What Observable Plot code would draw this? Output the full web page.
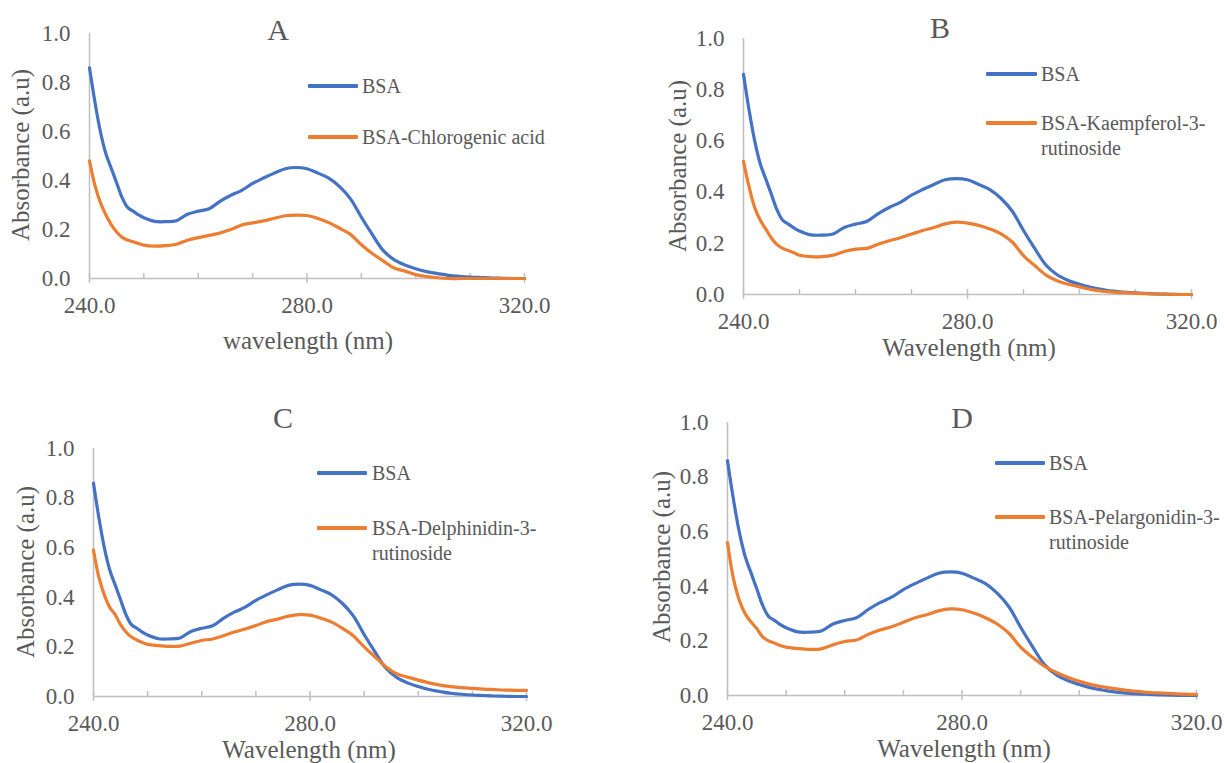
<!DOCTYPE html>
<html>
<head>
<meta charset="utf-8">
<script src="https://cdn.jsdelivr.net/npm/d3@7"></script>
<script src="https://cdn.jsdelivr.net/npm/@observablehq/plot@0.6"></script>
<style>
  html, body { margin: 0; padding: 0; background: #fff; }
  #root { position: relative; width: 1224px; height: 763px; overflow: hidden; background: #fff;
          font-family: "Liberation Serif", "Times New Roman", serif; color: #595959; }
  #root svg { position: absolute; left: 0; top: 0; }
  .t { position: absolute; white-space: nowrap; line-height: 1; }
  .title { font-size: 30px; transform: translate(-50%, -50%); }
  .xt { font-size: 25px; transform: translate(-50%, -50%); }
  .yt { font-size: 25px; transform: translate(-50%, -50%) rotate(-90deg); }
  .lg { font-size: 20px; transform: translateY(-50%); }
  .ln { position: absolute; height: 4px; border-radius: 1px; transform: translateY(-50%); }
</style>
</head>
<body>
<div id="root"></div>
<script>
// ---- data ----
const wavelength = [240,241,242,243,244,245,246,247,248,249,250,
  252,254,256,258,260,262,264,266,268,270,272,274,276,278,280,282,284,286,288,290,
  292,294,296,298,300,302,304,306,308,310,312,314,316,318,320];

const bsa = [0.86,0.72,0.60,0.51,0.45,0.39,0.33,0.29,0.275,0.26,0.248,
  0.233,0.232,0.236,0.262,0.275,0.285,0.315,0.34,0.36,0.388,0.41,0.43,0.448,0.453,0.448,0.43,0.41,0.375,0.325,0.25,
  0.18,0.115,0.077,0.055,0.04,0.028,0.02,0.013,0.009,0.006,0.004,0.002,0.001,0,0];

const chlorogenic = [0.48,0.38,0.31,0.26,0.22,0.19,0.168,0.157,0.15,0.143,0.136,
  0.132,0.134,0.14,0.156,0.167,0.176,0.186,0.2,0.218,0.227,0.235,0.246,0.256,0.259,0.257,0.245,0.228,0.205,0.18,0.138,
  0.102,0.072,0.043,0.03,0.016,0.008,0.003,0,0,0,0,0,0,0,0];

const kaempferol = [0.52,0.42,0.34,0.29,0.255,0.22,0.195,0.18,0.172,0.163,0.153,
  0.148,0.148,0.154,0.168,0.177,0.18,0.196,0.21,0.222,0.236,0.25,0.262,0.276,0.283,0.279,0.27,0.256,0.237,0.205,0.152,
  0.113,0.076,0.054,0.04,0.03,0.02,0.013,0.009,0.007,0.005,0.003,0.002,0.001,0,0];

const delphinidin = [0.59,0.48,0.41,0.36,0.33,0.29,0.26,0.24,0.228,0.218,0.21,
  0.205,0.202,0.203,0.215,0.226,0.232,0.245,0.26,0.272,0.286,0.302,0.312,0.324,0.33,0.328,0.316,0.3,0.275,0.245,0.2,
  0.16,0.12,0.092,0.078,0.066,0.055,0.046,0.04,0.036,0.033,0.03,0.028,0.026,0.025,0.025];

const pelargonidin = [0.56,0.43,0.35,0.30,0.27,0.245,0.215,0.2,0.192,0.183,0.177,
  0.172,0.169,0.171,0.186,0.198,0.203,0.224,0.24,0.252,0.268,0.285,0.296,0.31,0.317,0.314,0.302,0.285,0.262,0.228,0.177,
  0.14,0.108,0.085,0.067,0.052,0.04,0.032,0.025,0.019,0.015,0.011,0.009,0.007,0.005,0.004];

const xMajorTicks = [240, 280, 320];
const xMinorTicks = [240, 250, 260, 270, 280, 290, 300, 310, 320];
const yTicks = [0, 0.2, 0.4, 0.6, 0.8, 1.0];

const panels = [
  { letter: "A", xLabel: "wavelength (nm)", name: ["BSA-Chlorogenic acid"], values: chlorogenic,
    rect: [89, 524, 33, 278], titlePos: [278, 30], xt: [308, 340], yt: [20, 155],
    leg: { x0: 308, x1: 358, tx: 362, y1: 86, y2: 137 } },
  { letter: "B", xLabel: "Wavelength (nm)", name: ["BSA-Kaempferol-3-", "rutinoside"], values: kaempferol,
    rect: [743, 1191, 38, 294], titlePos: [940, 28], xt: [969, 347], yt: [677, 166],
    leg: { x0: 986, x1: 1037, tx: 1041, y1: 74, y2: 123 } },
  { letter: "C", xLabel: "Wavelength (nm)", name: ["BSA-Delphinidin-3-", "rutinoside"], values: delphinidin,
    rect: [93, 526, 448, 696], titlePos: [283, 418], xt: [309, 749], yt: [25, 572],
    leg: { x0: 317, x1: 367, tx: 372, y1: 473, y2: 528 } },
  { letter: "D", xLabel: "Wavelength (nm)", name: ["BSA-Pelargonidin-3-", "rutinoside"], values: pelargonidin,
    rect: [727, 1196, 422, 695], titlePos: [962, 418], xt: [964, 748], yt: [661, 557],
    leg: { x0: 995, x1: 1045, tx: 1049, y1: 463, y2: 517 } }
];

const BLUE = "#4472C4", ORANGE = "#ED7D31", AXIS = "#BFBFBF";
const W = 1224, H = 763;
const root = document.getElementById("root");

function addText(cls, txt, x, y) {
  const d = document.createElement("div");
  d.className = "t " + cls;
  d.textContent = txt;
  d.style.left = x + "px";
  d.style.top = y + "px";
  root.appendChild(d);
  return d;
}
function addLine(x0, x1, y, color) {
  const d = document.createElement("div");
  d.className = "ln";
  d.style.left = x0 + "px";
  d.style.width = (x1 - x0) + "px";
  d.style.top = y + "px";
  d.style.background = color;
  root.appendChild(d);
}

for (const p of panels) {
  const [x0, x1, y0, y1] = p.rect;
  const bsaData = wavelength.map((w, i) => ({ w, a: bsa[i] }));
  const cmpData = wavelength.map((w, i) => ({ w, a: p.values[i] }));
  const svg = Plot.plot({
    width: W, height: H,
    marginLeft: x0, marginRight: W - x1, marginTop: y0, marginBottom: H - y1,
    x: { domain: [240, 320] },
    y: { domain: [0, 1] },
    style: { fontFamily: '"Liberation Serif", "Times New Roman", serif', color: "#595959", background: "transparent", overflow: "visible" },
    marks: [
      Plot.ruleX([240], { y1: 0, y2: 1, stroke: AXIS, strokeWidth: 1.5 }),
      Plot.ruleY([0], { stroke: AXIS, strokeWidth: 1.5 }),
      Plot.axisX(xMinorTicks, { tickSize: 5, dy: -5, tickFormat: () => "", label: null, stroke: AXIS, strokeWidth: 1.5 }),
      Plot.axisX(xMajorTicks, { tickSize: 5, tickPadding: 13, tickFormat: ".1f", label: null, stroke: AXIS, strokeWidth: 1.5, fontSize: 23, fill: "#595959" }),
      Plot.axisY(yTicks, { tickSize: 0, tickPadding: 19, tickFormat: ".1f", label: null, fontSize: 23, fill: "#595959" }),
      Plot.line(bsaData, { x: "w", y: "a", stroke: BLUE, strokeWidth: 3.2, curve: "catmull-rom", strokeLinejoin: "round" }),
      Plot.line(cmpData, { x: "w", y: "a", stroke: ORANGE, strokeWidth: 3.2, curve: "catmull-rom", strokeLinejoin: "round" })
    ]
  });
  root.appendChild(svg);

  addText("title", p.letter, p.titlePos[0], p.titlePos[1]);
  addText("xt", p.xLabel, p.xt[0], p.xt[1]);
  addText("yt", "Absorbance (a.u)", p.yt[0], p.yt[1]);

  const L = p.leg;
  addLine(L.x0, L.x1, L.y1, BLUE);
  addText("lg", "BSA", L.tx, L.y1);
  addLine(L.x0, L.x1, L.y2, ORANGE);
  addText("lg", p.name[0], L.tx, L.y2);
  if (p.name[1]) addText("lg", p.name[1], L.tx, L.y2 + 25);
}
</script>
</body>
</html>
